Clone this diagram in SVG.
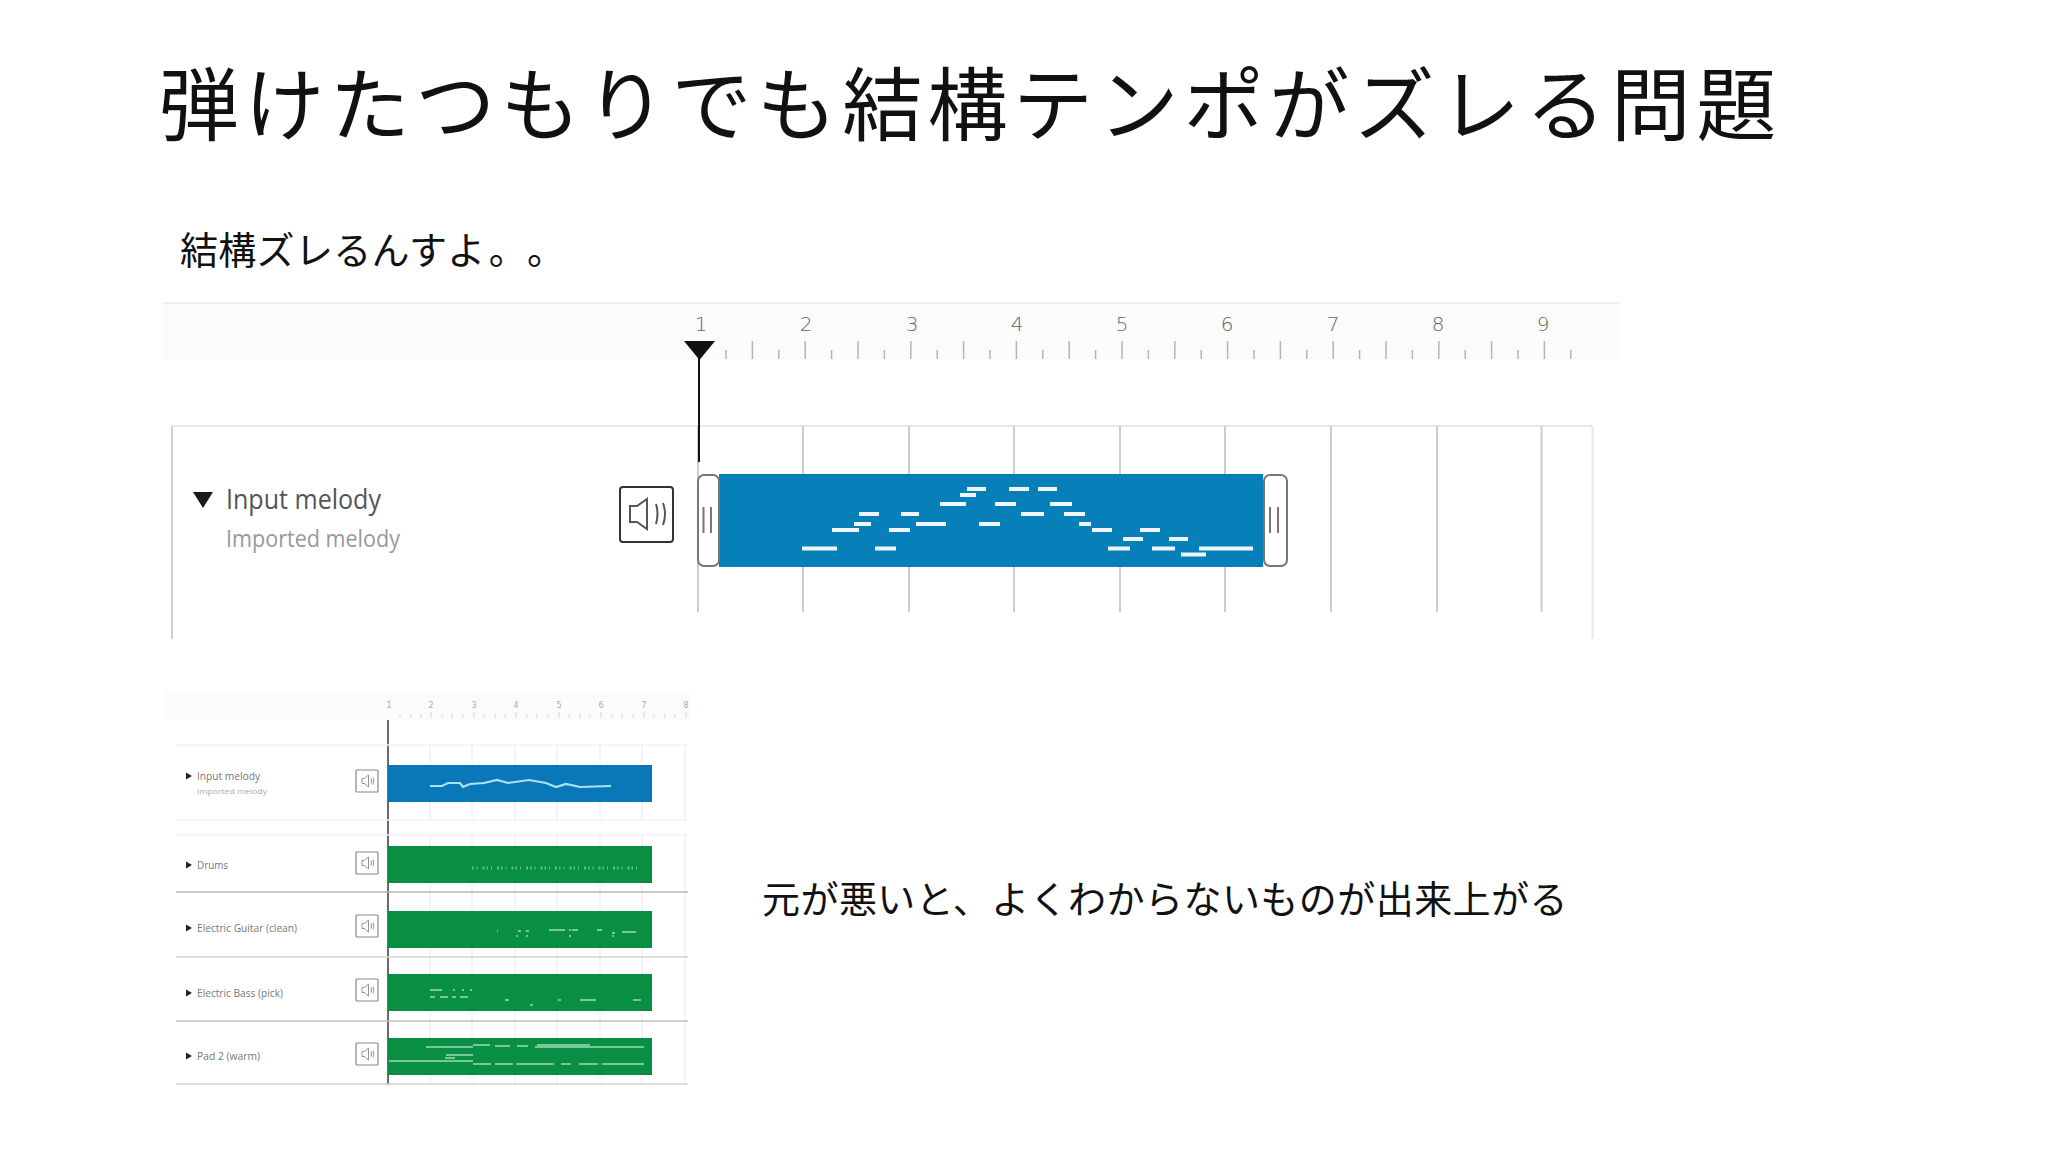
<svg xmlns="http://www.w3.org/2000/svg" width="2048" height="1152" viewBox="0 0 2048 1152">
<defs>
<style>
.jp{font-family:"Noto Sans CJK JP","Noto Sans",sans-serif;fill:#111;text-spacing-trim:space-all}
.ui{font-family:"Open Sans","Noto Sans",sans-serif}
.num{font-family:"DejaVu Sans",sans-serif;font-weight:200;font-size:20px;fill:#666;text-anchor:middle}
.grid{stroke:#cdcdcd;stroke-width:2;fill:none}
.note{fill:#eef6fb}
.mini{font-family:"Open Sans","Noto Sans",sans-serif;font-size:10px;fill:#777}
.mnum{font-family:"DejaVu Sans",sans-serif;font-size:8px;fill:#aaa;text-anchor:middle}
.mbtn{fill:#fff;stroke:#888;stroke-width:1.2}
.mline{stroke:#eaeaea;stroke-width:1;fill:none}
.mnote{stroke:#e8fff0;fill:none;stroke-width:1.2}
</style>
<filter id="soft" filterUnits="userSpaceOnUse" x="160" y="680" width="540" height="420"><feGaussianBlur stdDeviation="0.45"/></filter>
<g id="mini-speaker"><rect class="mbtn" x="0" y="0" width="22" height="22" rx="1"/><path d="M6 8.500h2.500l4-3.500v12l-4-3.500H6z M15 8.500q1.200 2.500 0 5 M17 7.500q1.500 3.500 0 7" fill="none" stroke="#888" stroke-width=".9"/></g>
<path id="mini-arrow" d="M0-3.500L6 0L0 3.500z" fill="#222"/>
</defs>
<rect width="2048" height="1152" fill="#fff"/>
<text id="title" class="jp" x="159" y="134" font-size="80" letter-spacing="5.400">弾けたつもりでも結構テンポがズレる問題</text>
<text id="caption-1" class="jp" x="180" y="264" font-size="38" letter-spacing=".3">結構ズレるんすよ<tspan dx="3">。。</tspan></text>
<text id="caption-2" class="jp" x="762" y="913" font-size="38" letter-spacing=".45">元が悪いと、よくわからないものが出来上がる</text>

<g id="ruler">
<rect x="163" y="303" width="1457" height="57" fill="#fbfbfb"/>
<path d="M163 303H1620" stroke="#eeeeee" stroke-width="2"/>
<path d="M726 350v9M752.400 341v18M778.800 350v9M805.200 341v18M831.600 350v9M858 341v18M884.400 350v9M910.800 341v18M937.200 350v9M963.600 341v18M990 350v9M1016.400 341v18M1042.800 350v9M1069.200 341v18M1095.600 350v9M1122 341v18M1148.400 350v9M1174.800 341v18M1201.200 350v9M1227.600 341v18M1254 350v9M1280.400 341v18M1306.800 350v9M1333.200 341v18M1359.600 350v9M1386 341v18M1412.400 350v9M1438.800 341v18M1465.200 350v9M1491.600 341v18M1518 350v9M1544.400 341v18M1570.800 350v9" stroke="#b5b5b5" stroke-width="1.500" fill="none"/>
<text class="num" x="701" y="331">1</text><text class="num" x="806" y="331">2</text><text class="num" x="912" y="331">3</text><text class="num" x="1017" y="331">4</text><text class="num" x="1122" y="331">5</text><text class="num" x="1227" y="331">6</text><text class="num" x="1333" y="331">7</text><text class="num" x="1438" y="331">8</text><text class="num" x="1543" y="331">9</text>
</g>

<g id="track-main">
<path d="M172 426H1592.500M1592.500 426V639" stroke="#e8e8e8" stroke-width="2" fill="none"/>
<path d="M172 426V639" stroke="#d0d0d0" stroke-width="2" fill="none"/>
<path class="grid" d="M698 426V612M803 426V612M909 426V612M1014 426V612M1120 426V612M1225 426V612M1331 426V612M1437 426V612M1541.500 426V612"/>
<path d="M193 492H213L203 508z" fill="#1a1a1a"/>
<text class="ui" x="226" y="509" font-size="27" fill="#555" textLength="155" lengthAdjust="spacingAndGlyphs">Input melody</text>
<text class="ui" x="226" y="547" font-size="23" fill="#999" textLength="174" lengthAdjust="spacingAndGlyphs">Imported melody</text>
<rect x="620" y="487" width="53" height="55" rx="3" fill="#fff" stroke="#333" stroke-width="2"/>
<path d="M630 506h7l10-7v30l-10-7h-7z M656 504q3 10 0 20M663 503q4 11 0 22" fill="none" stroke="#555" stroke-width="2"/>
</g>

<g id="clip-main">
<rect x="719" y="474" width="544" height="93" fill="#0780b9"/>
<rect x="698" y="475" width="21" height="91" rx="6" fill="#fff" stroke="#777" stroke-width="2"/>
<rect x="1264" y="475" width="23" height="91" rx="6" fill="#fff" stroke="#777" stroke-width="2"/>
<path d="M703.500 507V533M711 507V533M1270 507V533M1278 507V533" stroke="#777" stroke-width="2"/>
<g class="note">
<rect x="802" y="546.500" width="35" height="4"/><rect x="875" y="546.500" width="21" height="4"/><rect x="832" y="528" width="27" height="4"/><rect x="889" y="528" width="21" height="4"/><rect x="854" y="522" width="17" height="4"/><rect x="916" y="522" width="30" height="4"/><rect x="979" y="522" width="21" height="4"/><rect x="859" y="512" width="20" height="4"/><rect x="901" y="512" width="18" height="4"/><rect x="940" y="502" width="26" height="4"/><rect x="995" y="502" width="21" height="4"/><rect x="1050" y="502" width="22" height="4"/><rect x="1021" y="512" width="23" height="4"/><rect x="1064" y="512" width="21" height="4"/><rect x="960" y="493" width="16" height="4"/><rect x="967" y="487" width="19" height="4"/><rect x="1009" y="487" width="20" height="4"/><rect x="1038" y="487" width="19" height="4"/><rect x="1079" y="522" width="12" height="4"/><rect x="1092" y="528" width="20" height="4"/><rect x="1140" y="528" width="20" height="4"/><rect x="1123" y="537" width="20" height="4"/><rect x="1169" y="537" width="19" height="4"/><rect x="1108" y="546.500" width="22" height="4"/><rect x="1152" y="546.500" width="23" height="4"/><rect x="1181" y="552.500" width="25" height="4"/><rect x="1199" y="546.500" width="54" height="4"/>
</g>
</g>

<g id="connectors">
<path d="M699 341V462" stroke="#111" stroke-width="2" fill="none"/>
<path d="M684 341H715L699.500 360z" fill="#111"/>
<path d="M388 712V1085" stroke="#444" stroke-width="1.600" fill="none"/>
<path d="M382 712H394L388 719z" fill="#111"/>
</g>

<g id="mini-ruler">
<rect x="165" y="692" width="525" height="28" fill="#fbfbfb"/>
<path d="M400 715v3M411 715v3M421 713v5M431 712v6M442 715v3M452 713v5M463 715v3M474 712v6M484 715v3M495 713v5M505 715v3M516 712v6M527 715v3M537 713v5M548 715v3M559 712v6M569 715v3M580 713v5M590 715v3M601 712v6M612 715v3M622 713v5M633 715v3M644 712v6M654 715v3M665 713v5M675 715v3M686 712v6" stroke="#d5d5d5" stroke-width="1" fill="none"/>
<text class="mnum" x="389" y="708">1</text><text class="mnum" x="431" y="708">2</text><text class="mnum" x="474" y="708">3</text><text class="mnum" x="516" y="708">4</text><text class="mnum" x="559" y="708">5</text><text class="mnum" x="601" y="708">6</text><text class="mnum" x="644" y="708">7</text><text class="mnum" x="686" y="708">8</text>
</g>

<g id="mini-grid">
<path class="mline" d="M430 745V820M472 745V820M515 745V820M557 745V820M600 745V820M642 745V820M685 745V820M430 835V1084M472 835V1084M515 835V1084M557 835V1084M600 835V1084M642 835V1084M685 835V1084"/>
<path d="M176 745H688M176 820H688M176 835H688" stroke="#f3f3f3" stroke-width="1.500" fill="none"/>
<path d="M176 892H688" stroke="#b5b5b5" stroke-width="1.500"/>
<path d="M176 957H688" stroke="#d2d2d2" stroke-width="1.500"/>
<path d="M176 1021H688" stroke="#c0c0c0" stroke-width="1.500"/>
<path d="M176 1084H688" stroke="#d2d2d2" stroke-width="1.500"/>
</g>

<g id="mini-track-input">
<use href="#mini-arrow" x="186" y="776"/>
<text class="mini" x="197" y="780" textLength="63" lengthAdjust="spacingAndGlyphs">Input melody</text>
<text class="mini" x="197" y="794" style="font-size:8px;fill:#aaa" textLength="70" lengthAdjust="spacingAndGlyphs">Imported melody</text>
<use href="#mini-speaker" x="356" y="770"/>
<rect x="388" y="765" width="264" height="37" fill="#0a78b8"/>
<path d="M430 786H442L448 783L460 783L463 787L470 784L484 783L497 780L508 783L529 780L546 783L556 787L566 784L580 787L611 786" fill="none" stroke="#a8e4f5" stroke-width="2.200" filter="url(#soft)"/>
</g>

<g id="mini-track-drums">
<use href="#mini-arrow" x="186" y="865"/>
<text class="mini" x="197" y="869" textLength="31" lengthAdjust="spacingAndGlyphs">Drums</text>
<use href="#mini-speaker" x="356" y="852"/>
<rect x="388" y="846" width="264" height="37" fill="#088f44"/>
<path d="M472 868H640" stroke="#5fc088" stroke-width="3" stroke-dasharray="1.500 3 1 5 2 2" fill="none" filter="url(#soft)"/>
</g>

<g id="mini-track-guitar">
<use href="#mini-arrow" x="186" y="928"/>
<text class="mini" x="197" y="932" textLength="100" lengthAdjust="spacingAndGlyphs">Electric Guitar (clean)</text>
<use href="#mini-speaker" x="356" y="915"/>
<rect x="388" y="911" width="264" height="37" fill="#088f44"/>
<path class="mnote" filter="url(#soft)" d="M497 931h1M518 931h3M526 931h3M549 930h16M569 930h2M572 930h6M597 930h5M612 933h3M622 932h14M516 936h2M526 936h2M569 936h2M612 936h2"/>
</g>

<g id="mini-track-bass">
<use href="#mini-arrow" x="186" y="993"/>
<text class="mini" x="197" y="997" textLength="86" lengthAdjust="spacingAndGlyphs">Electric Bass (pick)</text>
<use href="#mini-speaker" x="356" y="979"/>
<rect x="388" y="974" width="264" height="37" fill="#088f44"/>
<path class="mnote" filter="url(#soft)" d="M430 990h12M453 990h2M462 990h2M470 990h2M430 997h5M440 997h8M452 997h4M460 997h8M505 1000h4M530 1005h3M558 1000h3M580 1000h16M633 1000h8"/>
</g>

<g id="mini-track-pad">
<use href="#mini-arrow" x="186" y="1056"/>
<text class="mini" x="197" y="1060" textLength="63" lengthAdjust="spacingAndGlyphs">Pad 2 (warm)</text>
<use href="#mini-speaker" x="356" y="1043"/>
<rect x="388" y="1038" width="264" height="37" fill="#088f44"/>
<path class="mnote" filter="url(#soft)" d="M426 1047H473M473 1045H490M495 1046H510M517 1046H528M535 1047H644M537 1045H590M389 1061H473M446 1055H473M445 1058H455M473 1064H491M495 1064H513M516 1064H554M561 1064H571M579 1064H598M602 1064H644"/>
</g>
</svg>
